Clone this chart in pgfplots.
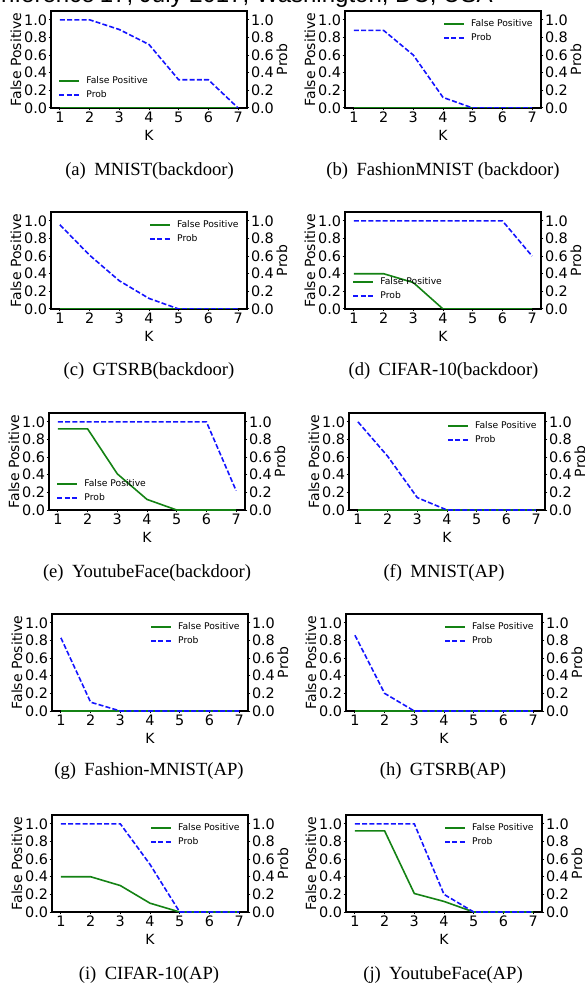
\documentclass[border=0pt]{standalone}
\usepackage{fontspec}
\setmainfont{DejaVu Sans}
\newfontfamily\capfont{Liberation Serif}
\newfontfamily\hdrfont{Liberation Sans}
\usepackage{pgfplots}
\pgfplotsset{compat=1.18}
\definecolor{fpgreen}{RGB}{20,130,20}
\definecolor{probblue}{RGB}{20,20,255}
\tikzset{
  fpline/.style={fpgreen, line width=0.8pt},
  probline/.style={probblue, line width=0.8pt, dash pattern=on 2.5pt off 1.1pt},
}
\pgfplotsset{
  base/.style={
    scale only axis, width=98pt, height=48.5pt,
    xmin=0.7, xmax=7.3, ymin=0, ymax=1.1,
    xtick={1,2,3,4,5,6,7},
    ytick={0,0.2,0.4,0.6,0.8,1.0},
    /pgf/number format/assume math mode=true,
    tick label style={font=\fontsize{7.2}{8}\selectfont, inner sep=0.6pt},
    yticklabel style={/pgf/number format/.cd, fixed, fixed zerofill, precision=1},
    tick align=outside, major tick length=1.2pt,
    every tick/.style={black, line width=0.5pt},
    axis line style={line width=0.7pt},
  },
  main/.style={base, xtick pos=bottom, ytick pos=left,
    xlabel={K}, ylabel={False Positive},
    every axis x label/.style={at={([yshift=-13.5pt]axis description cs:0.5,0)}, anchor=center, font=\fontsize{7}{8}\selectfont},
    every axis y label/.style={at={([xshift=-17.5pt]axis description cs:0,0.5)}, rotate=90, anchor=center, font=\fontsize{7}{8}\selectfont},
    legend style={draw=none, fill=none, font=\fontsize{4.6}{5}\selectfont, row sep=1.5pt, column sep=2.5pt, inner sep=0pt,
      nodes={inner sep=0.5pt, text height=3.5pt, text depth=1pt}},
    legend cell align=left,
  },
  rightax/.style={base, axis x line=none, axis y line*=right, ylabel={Prob},
    every axis y label/.style={at={([xshift=17.5pt]axis description cs:1,0.5)}, rotate=90, anchor=center, font=\fontsize{7}{8}\selectfont},
  },
  LL/.style={legend style={at={([xshift=3.5pt,yshift=3.3pt]axis description cs:0,0)}, anchor=south west}},
  UR/.style={legend style={at={([xshift=-3.5pt,yshift=-3.7pt]axis description cs:1,1)}, anchor=north east}},
}
\newcommand{\panel}[5]{%
\begin{axis}[main, at={(#1,#2)}, anchor=south west, #3]
\addlegendimage{legend image code/.code={\draw[fpline, line width=1pt] (0pt,0pt) -- (10pt,0pt);}}
\addlegendentry{False Positive}
\addlegendimage{legend image code/.code={\draw[probline, line width=1pt] (0pt,0pt) -- (10pt,0pt);}}
\addlegendentry{Prob}
\addplot[fpline, forget plot] coordinates {#4};
\addplot[probline, forget plot] coordinates {#5};
\end{axis}
\begin{axis}[rightax, at={(#1,#2)}, anchor=south west]
\addplot[draw=none] coordinates {(1,0)};
\end{axis}}
\newcommand{\subcap}[3]{\node[font=\capfont\fontsize{9.3}{11}\selectfont, anchor=base] at (#1,#2) {#3};}
\begin{document}
\begin{tikzpicture}
\useasboundingbox (0,0) rectangle (292pt,-491.5pt);
\node[anchor=base east, font=\hdrfont\fontsize{12}{13}\selectfont, inner sep=0pt] at (246.5pt,-1.5pt) {Conference’17, July 2017, Washington, DC, USA};
% (a)
\panel{25.5pt}{-54pt}{LL}{(1,0)(2,0)(3,0)(4,0)(5,0)(6,0)(7,0)}{(1,1.0)(2,1.0)(3,0.89)(4,0.72)(5,0.32)(6,0.32)(7,0)}
% (b)
\panel{172.5pt}{-54pt}{UR}{(1,0)(2,0)(3,0)(4,0)(5,0)(6,0)(7,0)}{(1,0.88)(2,0.88)(3,0.60)(4,0.12)(5,0)(6,0)(7,0)}
% (c)
\panel{25.5pt}{-154.5pt}{UR}{(1,0)(2,0)(3,0)(4,0)(5,0)(6,0)(7,0)}{(1,0.955)(2,0.61)(3,0.32)(4,0.12)(5,0)(6,0)(7,0)}
% (d)
\panel{172.5pt}{-154.5pt}{LL}{(1,0.4)(2,0.4)(3,0.3)(4,0)(5,0)(6,0)(7,0)}{(1,1.0)(2,1.0)(3,1.0)(4,1.0)(5,1.0)(6,1.0)(7,0.6)}
% (e)
\panel{24.5pt}{-255pt}{LL}{(1,0.92)(2,0.92)(3,0.41)(4,0.12)(5,0)(6,0)(7,0)}{(1,1.0)(2,1.0)(3,1.0)(4,1.0)(5,1.0)(6,1.0)(7,0.22)}
% (f)
\panel{174.5pt}{-255pt}{UR}{(1,0)(2,0)(3,0)(4,0)(5,0)(6,0)(7,0)}{(1,1.0)(2,0.61)(3,0.14)(4,0)(5,0)(6,0)(7,0)}
% (g)
\panel{26pt}{-355.5pt}{UR}{(1,0)(2,0)(3,0)(4,0)(5,0)(6,0)(7,0)}{(1,0.83)(2,0.10)(3,0)(4,0)(5,0)(6,0)(7,0)}
% (h)
\panel{173pt}{-355.5pt}{UR}{(1,0)(2,0)(3,0)(4,0)(5,0)(6,0)(7,0)}{(1,0.86)(2,0.20)(3,0)(4,0)(5,0)(6,0)(7,0)}
% (i)
\panel{26pt}{-456pt}{UR}{(1,0.4)(2,0.4)(3,0.3)(4,0.1)(5,0)(6,0)(7,0)}{(1,1.0)(2,1.0)(3,1.0)(4,0.54)(5,0)(6,0)(7,0)}
% (j)
\panel{173pt}{-456pt}{UR}{(1,0.92)(2,0.92)(3,0.21)(4,0.12)(5,0)(6,0)(7,0)}{(1,1.0)(2,1.0)(3,1.0)(4,0.20)(5,0)(6,0)(7,0)}
\subcap{74.75pt}{-88pt}{(a)\hspace{0.45em}MNIST(backdoor)}
\subcap{221.5pt}{-88pt}{(b)\hspace{0.45em}FashionMNIST (backdoor)}
\subcap{74.5pt}{-188pt}{(c)\hspace{0.45em}GTSRB(backdoor)}
\subcap{221.75pt}{-188pt}{(d)\hspace{0.45em}CIFAR-10(backdoor)}
\subcap{73.5pt}{-288.5pt}{(e)\hspace{0.45em}YoutubeFace(backdoor)}
\subcap{222pt}{-288.5pt}{(f)\hspace{0.45em}MNIST(AP)}
\subcap{74.5pt}{-387.5pt}{(g)\hspace{0.45em}Fashion-MNIST(AP)}
\subcap{221.5pt}{-387.5pt}{(h)\hspace{0.45em}GTSRB(AP)}
\subcap{74.5pt}{-489.5pt}{(i)\hspace{0.45em}CIFAR-10(AP)}
\subcap{221.5pt}{-489.5pt}{(j)\hspace{0.45em}YoutubeFace(AP)}
\end{tikzpicture}
\end{document}
